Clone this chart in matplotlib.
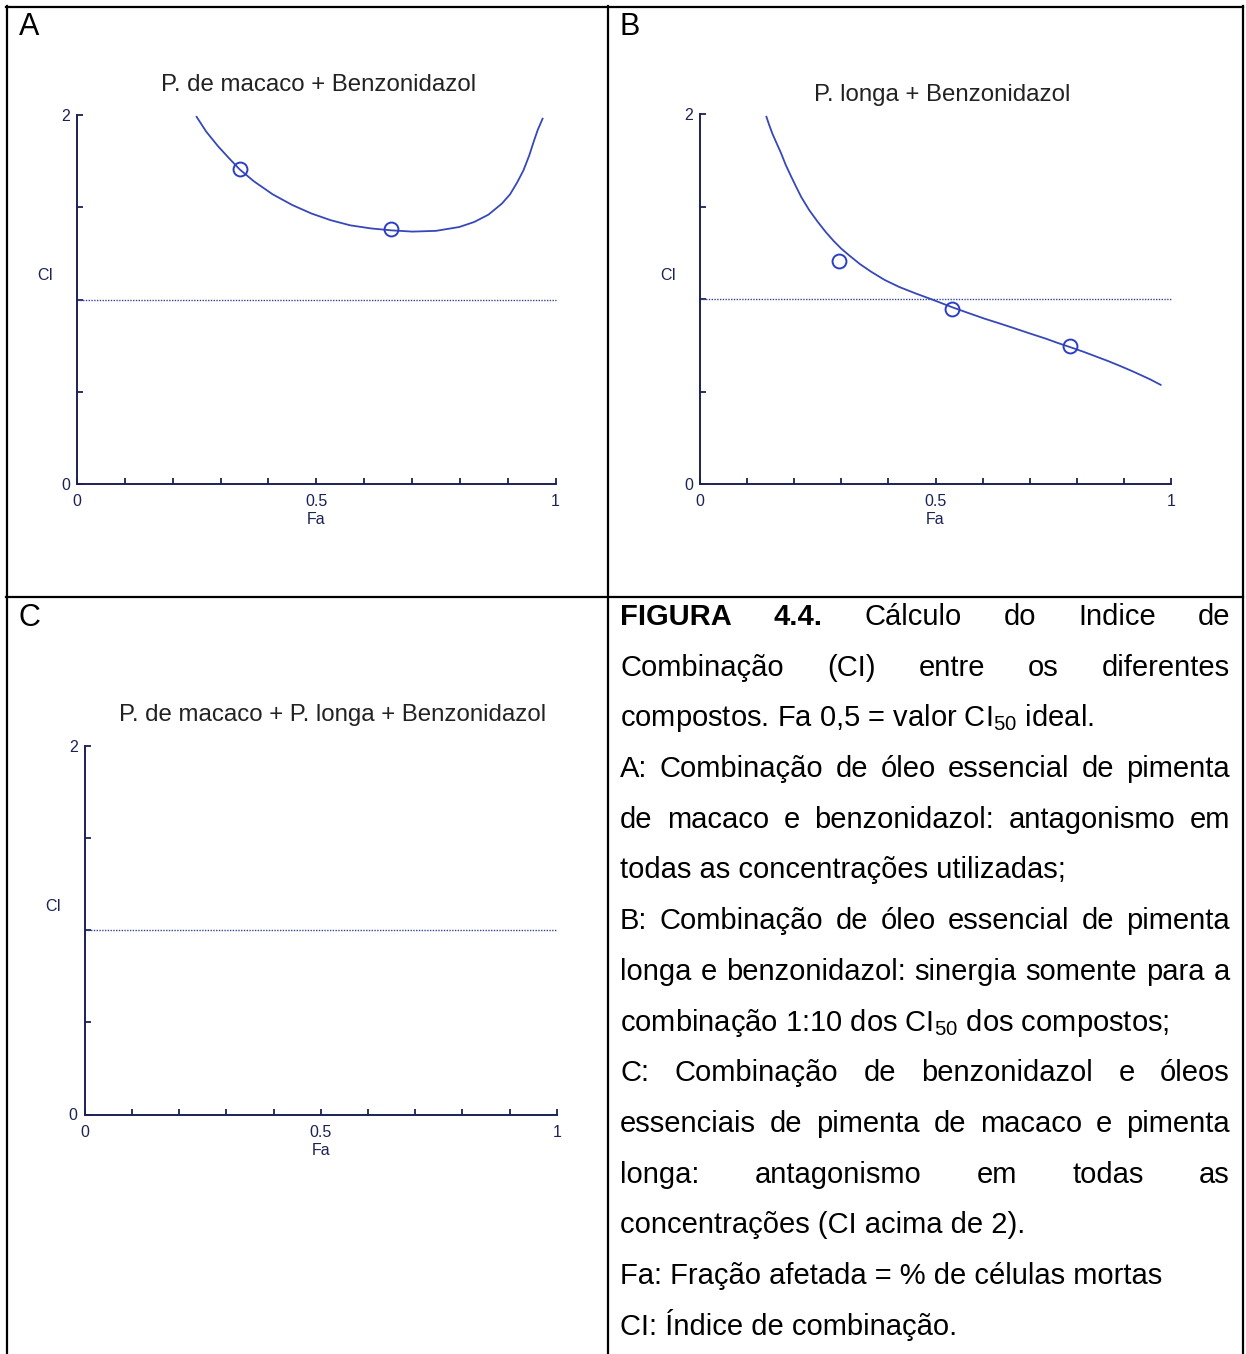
import matplotlib
matplotlib.use('Agg')
import matplotlib.pyplot as plt
from matplotlib.lines import Line2D

plt.rcParams['font.family'] = ['Liberation Sans', 'DejaVu Sans']
plt.rcParams['mathtext.fontset'] = 'custom'
plt.rcParams['mathtext.rm'] = 'Liberation Sans'

# ---------------- data ----------------
fa_ticks = [0.0, 0.1, 0.2, 0.3, 0.4, 0.5, 0.6, 0.7, 0.8, 0.9, 1.0]
fa_ticklabels = ['0', '', '', '', '', '0.5', '', '', '', '', '1']
ci_ticks = [0.0, 0.5, 1.0, 1.5, 2.0]
ci_ticklabels = ['0', '', '', '', '2']
ref_fa = [0.0, 1.0]
ref_ci = [1.0, 1.0]

# Panel A: P. de macaco + Benzonidazol
a_curve_fa = [0.250, 0.270, 0.295, 0.318, 0.340, 0.370, 0.409, 0.450, 0.490, 0.530,
              0.571, 0.615, 0.656, 0.701, 0.750, 0.799, 0.830, 0.860, 0.888, 0.905,
              0.920, 0.933, 0.945, 0.955, 0.963, 0.973]
a_curve_ci = [1.990, 1.910, 1.830, 1.765, 1.705, 1.640, 1.570, 1.512, 1.466, 1.430,
              1.402, 1.385, 1.375, 1.368, 1.372, 1.393, 1.420, 1.460, 1.520, 1.570,
              1.635, 1.700, 1.780, 1.860, 1.920, 1.980]
a_pts_fa = [0.340, 0.656]
a_pts_ci = [1.705, 1.380]

# Panel B: P. longa + Benzonidazol
b_curve_fa = [0.141, 0.147, 0.154, 0.163, 0.172, 0.182, 0.193, 0.204, 0.215, 0.232,
              0.250, 0.267, 0.284, 0.300, 0.319, 0.340, 0.363, 0.392, 0.423, 0.458,
              0.493, 0.536, 0.570, 0.605, 0.636, 0.666, 0.700, 0.735, 0.760, 0.788,
              0.815, 0.840, 0.866, 0.892, 0.915, 0.935, 0.957, 0.978]
b_curve_ci = [1.985, 1.940, 1.892, 1.840, 1.789, 1.725, 1.665, 1.607, 1.551, 1.480,
              1.417, 1.362, 1.313, 1.272, 1.231, 1.188, 1.148, 1.103, 1.065, 1.030,
              0.997, 0.955, 0.924, 0.893, 0.868, 0.843, 0.814, 0.785, 0.762, 0.738,
              0.714, 0.690, 0.665, 0.638, 0.613, 0.590, 0.564, 0.536]
b_pts_fa = [0.296, 0.536, 0.785]
b_pts_ci = [1.204, 0.945, 0.745]

titles = ['P. de macaco + Benzonidazol', 'P. longa + Benzonidazol',
          'P. de macaco + P. longa + Benzonidazol']
panel_letters = ['A', 'B', 'C']

caption_lines = [
    'FIGURA 4.4. Cálculo do Indice de',
    'Combinação (CI) entre os diferentes',
    'compostos. Fa 0,5 = valor CI$_{\\mathregular{50}}$ ideal.',
    'A: Combinação de óleo essencial de pimenta',
    'de macaco e benzonidazol: antagonismo em',
    'todas as concentrações utilizadas;',
    'B: Combinação de óleo essencial de pimenta',
    'longa e benzonidazol: sinergia somente para a',
    'combinação 1:10 dos CI$_{\\mathregular{50}}$ dos compostos;',
    'C: Combinação de benzonidazol e óleos',
    'essenciais de pimenta de macaco e pimenta',
    'longa: antagonismo em todas as',
    'concentrações (CI acima de 2).',
    'Fa: Fração afetada = % de células mortas',
    'CI: Índice de combinação.',
]
caption_justify = [True, True, False, True, True, False, True, True, False,
                   True, True, True, False, False, False]
bold_words = ['FIGURA', '4.4.']

# ---------------- figure ----------------
W, H = 1246, 1354
fig = plt.figure(figsize=(W / 100, H / 100), dpi=100)
fig.patch.set_facecolor('white')

def fx(x):
    return x / W

def fy(y):
    return 1 - y / H

axc = '#1b2255'
curve_c = '#3648b8'
mark_c = '#2a3fc4'
ref_c = '#34449c'

def make_axes(left, right, top, bottom):
    return fig.add_axes([fx(left), fy(bottom), fx(right) - fx(left), fy(top) - fy(bottom)])

def style(ax):
    ax.set_xlim(0, 1)
    ax.set_ylim(0, 2)
    ax.patch.set_alpha(0)
    for s in ['top', 'right']:
        ax.spines[s].set_visible(False)
    for s in ['left', 'bottom']:
        ax.spines[s].set_color(axc)
        ax.spines[s].set_linewidth(1.4)
    ax.set_xticks(fa_ticks)
    ax.set_xticklabels(fa_ticklabels)
    ax.set_yticks(ci_ticks)
    ax.set_yticklabels(ci_ticklabels)
    ax.tick_params(axis='both', direction='in', length=4, width=1.3, color=axc,
                   labelcolor=axc, labelsize=11.5)
    ax.tick_params(axis='x', pad=7.5)
    ax.tick_params(axis='y', pad=5)
    ax.set_xlabel('Fa', fontsize=11.5, color=axc, labelpad=2)
    ax.set_ylabel('CI', fontsize=11.5, color=axc, rotation=0, ha='center', va='center')
    ax.yaxis.set_label_coords(-0.067, 0.564)
    ax.plot(ref_fa, ref_ci, linestyle=(0, (1, 1)), color=ref_c, lw=1.0, clip_on=False)

axA = make_axes(77, 555.5, 115, 484)
style(axA)
axA.plot(a_curve_fa, a_curve_ci, color=curve_c, lw=1.3, clip_on=False)
axA.plot(a_pts_fa, a_pts_ci, 'o', mfc='none', mec=mark_c, ms=10, mew=1.4, clip_on=False)

axB = make_axes(700, 1171, 114, 484)
style(axB)
axB.plot(b_curve_fa, b_curve_ci, color=curve_c, lw=1.3, clip_on=False)
axB.plot(b_pts_fa, b_pts_ci, 'o', mfc='none', mec=mark_c, ms=10, mew=1.4, clip_on=False)

axC = make_axes(84.5, 557, 746, 1114.5)
style(axC)

# titles (image-level text)
title_pos = [(319, 85), (942.5, 95), (333, 715)]
for t, (x, y) in zip(titles, title_pos):
    fig.text(fx(x), fy(y), t, ha='center', va='center', fontsize=17.3, color='#222222')

letter_pos = [(19, 27), (620, 27), (19, 618)]
for t, (x, y) in zip(panel_letters, letter_pos):
    fig.text(fx(x), fy(y), t, ha='left', va='center', fontsize=22, color='black')

# table borders
def hline(y, x0, x1):
    fig.add_artist(Line2D([fx(x0), fx(x1)], [fy(y), fy(y)], color='black', lw=1.6,
                          transform=fig.transFigure))

def vline(x, y0, y1):
    fig.add_artist(Line2D([fx(x), fx(x)], [fy(y0), fy(y1)], color='black', lw=1.6,
                          transform=fig.transFigure))

hline(7, 5.5, 1243)
hline(596.5, 5.5, 1243)
vline(6.5, 6, H)
vline(607.5, 6, H)
vline(1242.5, 6, H)

# caption text (justified)
fig.canvas.draw()
renderer = fig.canvas.get_renderer()
text_left, text_right = 620, 1230
base0, step = 625, 50.7
fs = 21
for i, (line, just) in enumerate(zip(caption_lines, caption_justify)):
    yb = fy(base0 + i * step)
    if not just:
        fig.text(fx(text_left), yb, line, ha='left', va='baseline', fontsize=fs, color='black')
        continue
    words = line.split(' ')
    objs = []
    for w in words:
        weight = 'bold' if (i == 0 and w in bold_words) else 'normal'
        t = fig.text(0, yb, w, ha='left', va='baseline', fontsize=fs,
                     fontweight=weight, color='black')
        objs.append(t)
    widths = [t.get_window_extent(renderer).width for t in objs]
    gap = (text_right - text_left - sum(widths)) / (len(words) - 1)
    x = text_left
    for t, wdt in zip(objs, widths):
        t.set_x(fx(x))
        x += wdt + gap

fig.savefig('out.png', dpi=100, facecolor='white')
